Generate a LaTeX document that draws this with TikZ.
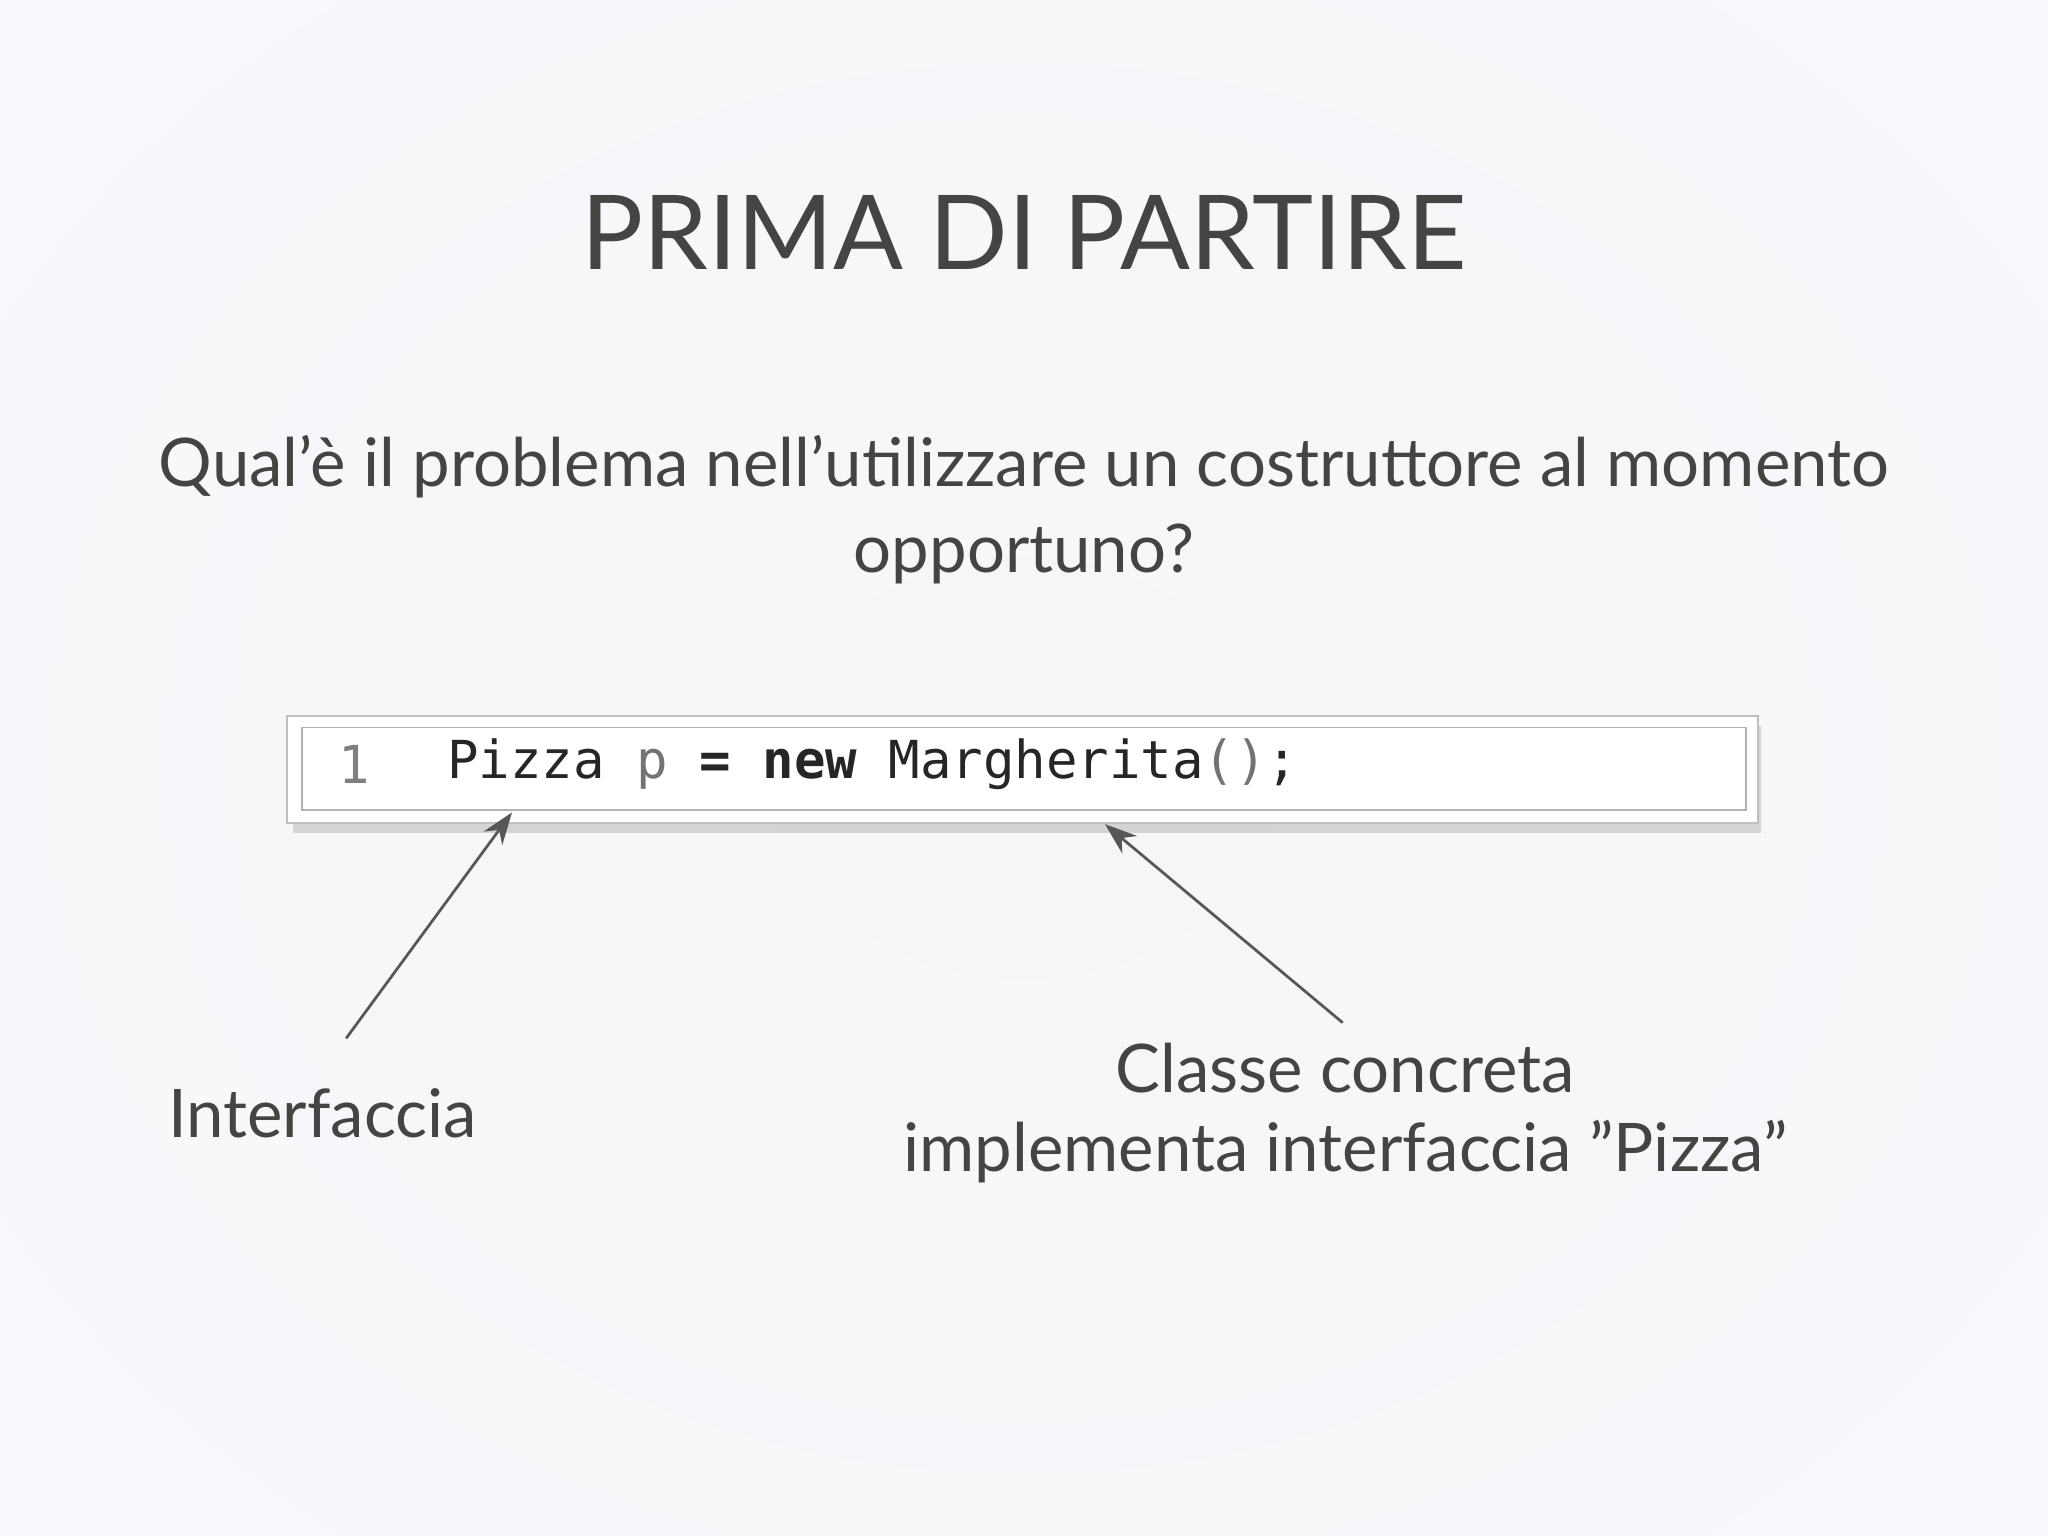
\documentclass[tikz,border=0pt]{standalone}
\usepackage{fontspec}
\setmainfont{Lato}[Ligatures={ResetAll}]
\setmonofont{DejaVu Sans Mono}
\usetikzlibrary{arrows.meta}
\definecolor{txt}{HTML}{444444}
\tikzset{lbl/.style={text=txt,font=\fontsize{14.6}{17.2}\selectfont,align=center},
 arr/.style={draw=txt!90,line width=0.6pt,-{Stealth[length=7pt,width=5pt]}}}
\begin{document}
\begin{tikzpicture}[x=0.01cm,y=-0.01cm]
\useasboundingbox (0,0) rectangle (1568,1176);
\shade[inner color=gray!7!white,outer color=gray!28!blue!3!white] (-300,-300) rectangle (1868,1476);
\node[text=txt,font=\fontsize{22.5}{30}\selectfont] (title) at (784,178) {PRIMA DI PARTIRE};
\node[lbl,font=\fontsize{14.6}{18.8}\selectfont] (q) at (784,390) {Qual'è il problema nell'utilizzare un costruttore al momento\\opportuno?};
\fill[black!30,opacity=0.5] (224,556) rectangle (1348,638);
\draw[fill=white,draw=gray!50] (220,548) rectangle (1346,630);
\draw[draw=gray!60,fill=white] (231,557) rectangle (1337,620);
\node[anchor=west,font=\ttfamily\fontsize{11.4}{13}\selectfont,text=gray] (n) at (247,585) {1};
\node[anchor=west,font=\ttfamily\fontsize{11.4}{13}\selectfont,text=black!85] (code) at (330,585) {Pizza \textcolor{gray!90!black}{p} \textbf{=} \textbf{new} Margherita\textcolor{gray!90!black}{()};};
\coordinate (c1) at (392,622);
\coordinate (c2) at (846,631);
\node[lbl] (i) at (247,852) {Interfaccia};
\node[lbl] (cc) at (1030,852) {Classe concreta\\implementa interfaccia "Pizza"};
\draw[arr] (265,795) -- (c1);
\draw[arr] (1028,783) -- (c2);
\end{tikzpicture}
\end{document}
